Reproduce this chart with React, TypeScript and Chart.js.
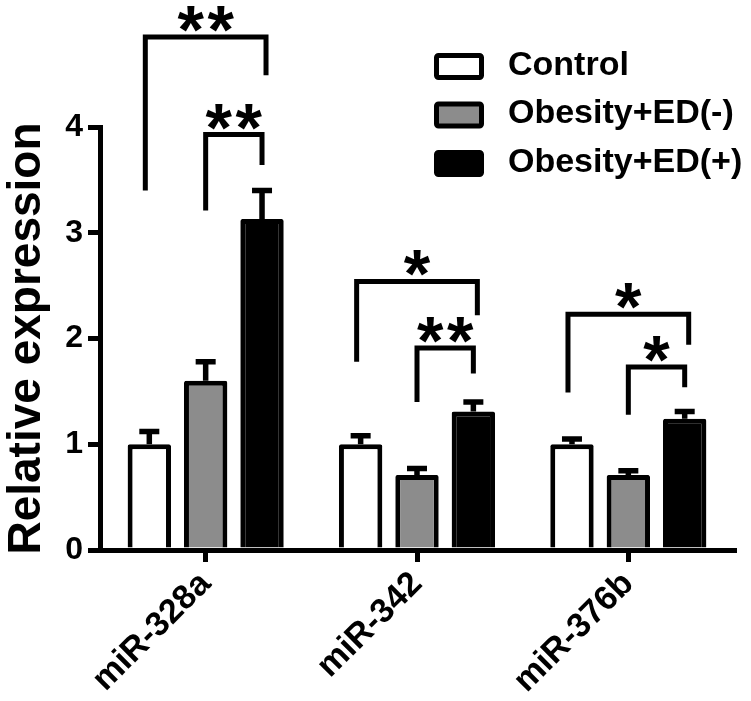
import React, { useEffect, useRef } from 'react';
import { Chart, registerables } from 'chart.js';

Chart.register(...registerables);

// ---------- data ----------
const categories = ['miR-328a', 'miR-342', 'miR-376b'];
const seriesNames = ['Control', 'Obesity+ED(-)', 'Obesity+ED(+)'];
const controlValues = [1.0, 1.0, 1.0];
const edNegValues = [1.6, 0.71, 0.71];
const edPosValues = [3.13, 1.31, 1.24];
const controlErrors = [0.12, 0.08, 0.05];
const edNegErrors = [0.18, 0.06, 0.04];
const edPosErrors = [0.27, 0.09, 0.07];
const yTickValues = [0, 1, 2, 3, 4];
const yAxisTitle = 'Relative expression';

// significance brackets (category index, from series, to series, levels in data units)
const bracketCategory = [0, 0, 1, 1, 2, 2];
const bracketFrom = [0, 1, 0, 1, 0, 1];
const bracketTo = [2, 2, 2, 2, 2, 2];
const bracketTop = [4.85, 3.93, 2.54, 1.91, 2.23, 1.73];
const bracketLeftEnd = [3.4, 3.21, 1.78, 1.4, 1.49, 1.28];
const bracketRightEnd = [4.49, 3.64, 2.22, 1.67, 1.94, 1.54];
const bracketLabels = ['**', '**', '*', '**', '*', '*'];

const FONT = '"Liberation Sans", Arial, Helvetica, sans-serif';
const fillColors = ['#ffffff', '#8c8c8c', '#000000'];
const errorSets = [controlErrors, edNegErrors, edPosErrors];

const errorBarPlugin = {
  id: 'errorBars',
  afterDatasetsDraw(chart: any) {
    const ctx = chart.ctx;
    const yScale = chart.scales.y;
    ctx.save();
    ctx.strokeStyle = '#000';
    ctx.lineWidth = 5.5;
    ctx.lineCap = 'butt';
    chart.data.datasets.forEach((ds: any, i: number) => {
      const meta = chart.getDatasetMeta(i);
      meta.data.forEach((el: any, j: number) => {
        const v = ds.data[j];
        const e = errorSets[i][j];
        const yTop = yScale.getPixelForValue(v);
        const yCap = yScale.getPixelForValue(v + e);
        ctx.beginPath();
        ctx.moveTo(el.x, yTop);
        ctx.lineTo(el.x, yCap);
        ctx.moveTo(el.x - 10, yCap);
        ctx.lineTo(el.x + 10, yCap);
        ctx.stroke();
      });
    });
    ctx.restore();
  },
};

const bracketPlugin = {
  id: 'brackets',
  afterDraw(chart: any) {
    const ctx = chart.ctx;
    const yScale = chart.scales.y;
    ctx.save();
    ctx.strokeStyle = '#000';
    ctx.fillStyle = '#000';
    ctx.lineWidth = 5;
    ctx.lineJoin = 'miter';
    ctx.lineCap = 'butt';
    bracketCategory.forEach((c, k) => {
      const spread = bracketTo[k] - bracketFrom[k] > 1 ? 4 : 0;
      const x1 = chart.getDatasetMeta(bracketFrom[k]).data[c].x - spread;
      const x2 = chart.getDatasetMeta(bracketTo[k]).data[c].x + spread;
      const yT = yScale.getPixelForValue(bracketTop[k]);
      const yL = yScale.getPixelForValue(bracketLeftEnd[k]);
      const yR = yScale.getPixelForValue(bracketRightEnd[k]);
      ctx.beginPath();
      ctx.moveTo(x1, yL);
      ctx.lineTo(x1, yT);
      ctx.lineTo(x2, yT);
      ctx.lineTo(x2, yR);
      ctx.stroke();
      const label = bracketLabels[k];
      const n = label.length;
      const size = 68;
      ctx.font = `bold ${size}px ${FONT}`;
      ctx.textAlign = 'center';
      ctx.textBaseline = 'alphabetic';
      const cx = (x1 + x2) / 2;
      const cy = yT - 23;
      for (let s = 0; s < n; s++) {
        const sx = cx + (s - (n - 1) / 2) * 30;
        ctx.fillText(label[s], sx, cy + 0.575 * size);
      }
    });
    ctx.restore();
  },
};

const legendPlugin = {
  id: 'customLegend',
  afterDraw(chart: any) {
    const ctx = chart.ctx;
    ctx.save();
    const bx = 434;
    const top = 53;
    const rowH = 48.5;
    chart.data.datasets.forEach((ds: any, i: number) => {
      const y = top + i * rowH;
      ctx.fillStyle = ds.backgroundColor;
      ctx.strokeStyle = '#000';
      ctx.lineWidth = 5;
      ctx.beginPath();
      if (ctx.roundRect) ctx.roundRect(bx + 2.5, y + 2.5, 45, 22, 2);
      else ctx.rect(bx + 2.5, y + 2.5, 45, 22);
      ctx.fill();
      ctx.stroke();
      ctx.fillStyle = '#000';
      ctx.font = `bold 34px ${FONT}`;
      ctx.textAlign = 'left';
      ctx.textBaseline = 'middle';
      ctx.fillText(ds.label, 508, y + 12.5);
    });
    ctx.restore();
  },
};

export default function App() {
  const canvasRef = useRef<HTMLCanvasElement | null>(null);

  useEffect(() => {
    const canvas = canvasRef.current;
    if (!canvas) return;
    Chart.defaults.font.family = FONT;
    const valueSets = [controlValues, edNegValues, edPosValues];
    const chart = new Chart(canvas, {
      type: 'bar',
      data: {
        labels: categories,
        datasets: seriesNames.map((name, i) => ({
          label: name,
          data: valueSets[i],
          backgroundColor: fillColors[i],
          borderColor: '#000',
          borderWidth: 5,
          borderRadius: 2,
          categoryPercentage: 0.8,
          barPercentage: 0.77,
        })),
      },
      options: {
        responsive: false,
        animation: false,
        events: [],
        layout: { padding: { top: 127, right: 17, left: 0, bottom: 0 } },
        plugins: {
          legend: { display: false },
          tooltip: { enabled: false },
          title: { display: false },
        },
        scales: {
          x: {
            type: 'category',
            offset: true,
            grid: {
              offset: false,
              drawOnChartArea: false,
              drawTicks: true,
              tickLength: 12,
              lineWidth: 5,
              color: '#000',
            },
            border: { display: true, width: 5, color: '#000' },
            ticks: {
              color: '#000',
              font: { size: 34, weight: 'bold' },
              minRotation: 45,
              maxRotation: 45,
              padding: 2,
              autoSkip: false,
            },
            afterFit: (s: any) => {
              s.height = 151;
            },
          },
          y: {
            min: 0,
            max: 4,
            grid: {
              drawOnChartArea: false,
              drawTicks: true,
              tickLength: 12,
              lineWidth: 5,
              color: '#000',
            },
            border: { display: true, width: 5, color: '#000' },
            ticks: {
              color: '#000',
              font: { size: 32, weight: 'bold' },
              padding: 5,
            },
            afterBuildTicks: (s: any) => {
              s.ticks = yTickValues.map((v) => ({ value: v }));
            },
            title: {
              display: true,
              text: yAxisTitle,
              color: '#000',
              font: { size: 46, weight: 'bold' },
              padding: { top: 0, bottom: 0 },
            },
            afterFit: (s: any) => {
              s.width = 100;
            },
          },
        },
      },
      plugins: [errorBarPlugin, bracketPlugin, legendPlugin],
    } as any);
    return () => chart.destroy();
  }, []);

  return (
    <div style={{ position: 'absolute', left: 0, top: 0, width: 751, height: 701, background: '#fff' }}>
      <canvas ref={canvasRef} width={751} height={701} />
    </div>
  );
}
